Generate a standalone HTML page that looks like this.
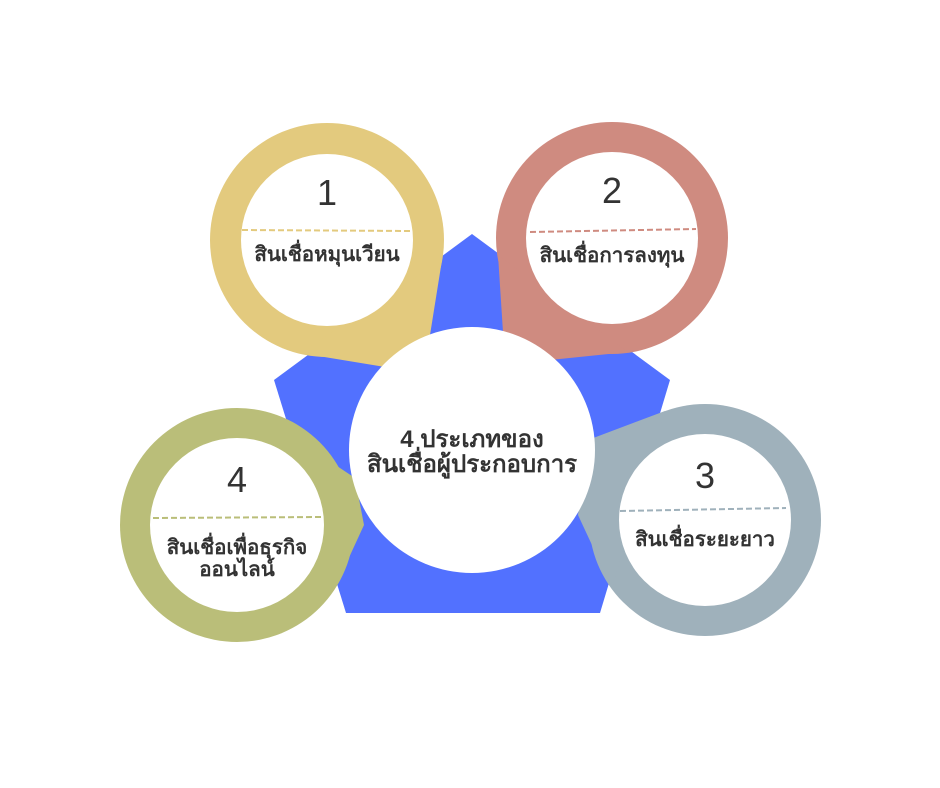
<!DOCTYPE html>
<html><head><meta charset="utf-8"><style>
html,body{margin:0;padding:0;background:#fff;}
svg{display:block}
text{font-family:"Liberation Sans","DejaVu Sans","Noto Sans CJK SC",sans-serif;fill:#333;}
.n{font-size:36px;}
.l{font-size:20.5px;font-weight:bold;}
.c{font-size:24px;font-weight:bold;}
</style></head><body>
<svg width="940" height="788" viewBox="0 0 940 788" xmlns="http://www.w3.org/2000/svg">
<rect width="940" height="788" fill="#fff"/>
<polygon points="472,234 670,380 600,613 346,613 274,380" fill="#5271ff"/>
<!-- pin 1 -->
<circle cx="327" cy="240" r="117" fill="#e3ca7e"/>
<polygon points="300,353 385,367 430,335 442,260" fill="#e3ca7e"/>
<circle cx="327" cy="240" r="86" fill="#fff"/>
<!-- pin 2 -->
<circle cx="612" cy="238" r="116" fill="#cf8b80"/>
<polygon points="498,255 503,332 550,360 628,352" fill="#cf8b80"/>
<circle cx="612" cy="238" r="86" fill="#fff"/>
<!-- pin 3 -->
<circle cx="705" cy="520" r="116" fill="#9fb1bb"/>
<polygon points="612,588 578,515 588,440 665,411" fill="#9fb1bb"/>
<circle cx="705" cy="520" r="86" fill="#fff"/>
<!-- pin 4 -->
<circle cx="237" cy="525" r="117" fill="#babe79"/>
<polygon points="280,428 355,478 364,525 335,588" fill="#babe79"/>
<circle cx="237" cy="525" r="87" fill="#fff"/>
<!-- center -->
<circle cx="472" cy="450" r="123" fill="#fff"/>
<!-- dashes -->
<line x1="242" y1="230" x2="410" y2="231" stroke="#e3ca7e" stroke-width="2" stroke-dasharray="6,3"/>
<line x1="530" y1="232" x2="696" y2="229" stroke="#cf8b80" stroke-width="2" stroke-dasharray="6,3"/>
<line x1="620" y1="511" x2="786" y2="508" stroke="#9fb1bb" stroke-width="2" stroke-dasharray="6,3"/>
<line x1="153" y1="518" x2="322" y2="517" stroke="#babe79" stroke-width="2" stroke-dasharray="6,3"/>
<!-- text -->
<text class="n" x="327" y="205" text-anchor="middle">1</text>
<text class="n" x="612" y="203" text-anchor="middle">2</text>
<text class="n" x="705" y="488" text-anchor="middle">3</text>
<text class="n" x="237" y="492" text-anchor="middle">4</text>
<text class="l" x="327" y="261" text-anchor="middle">สินเชื่อหมุนเวียน</text>
<text class="l" x="612" y="262" text-anchor="middle">สินเชื่อการลงทุน</text>
<text class="l" x="705" y="546" text-anchor="middle">สินเชื่อระยะยาว</text>
<text class="l" x="237" y="554" text-anchor="middle">สินเชื่อเพื่อธุรกิจ</text>
<text class="l" x="237" y="576" text-anchor="middle">ออนไลน์</text>
<text class="c" x="472" y="447" text-anchor="middle">4 ประเภทของ</text>
<text class="c" x="472" y="472" text-anchor="middle">สินเชื่อผู้ประกอบการ</text>
</svg>
</body></html>
